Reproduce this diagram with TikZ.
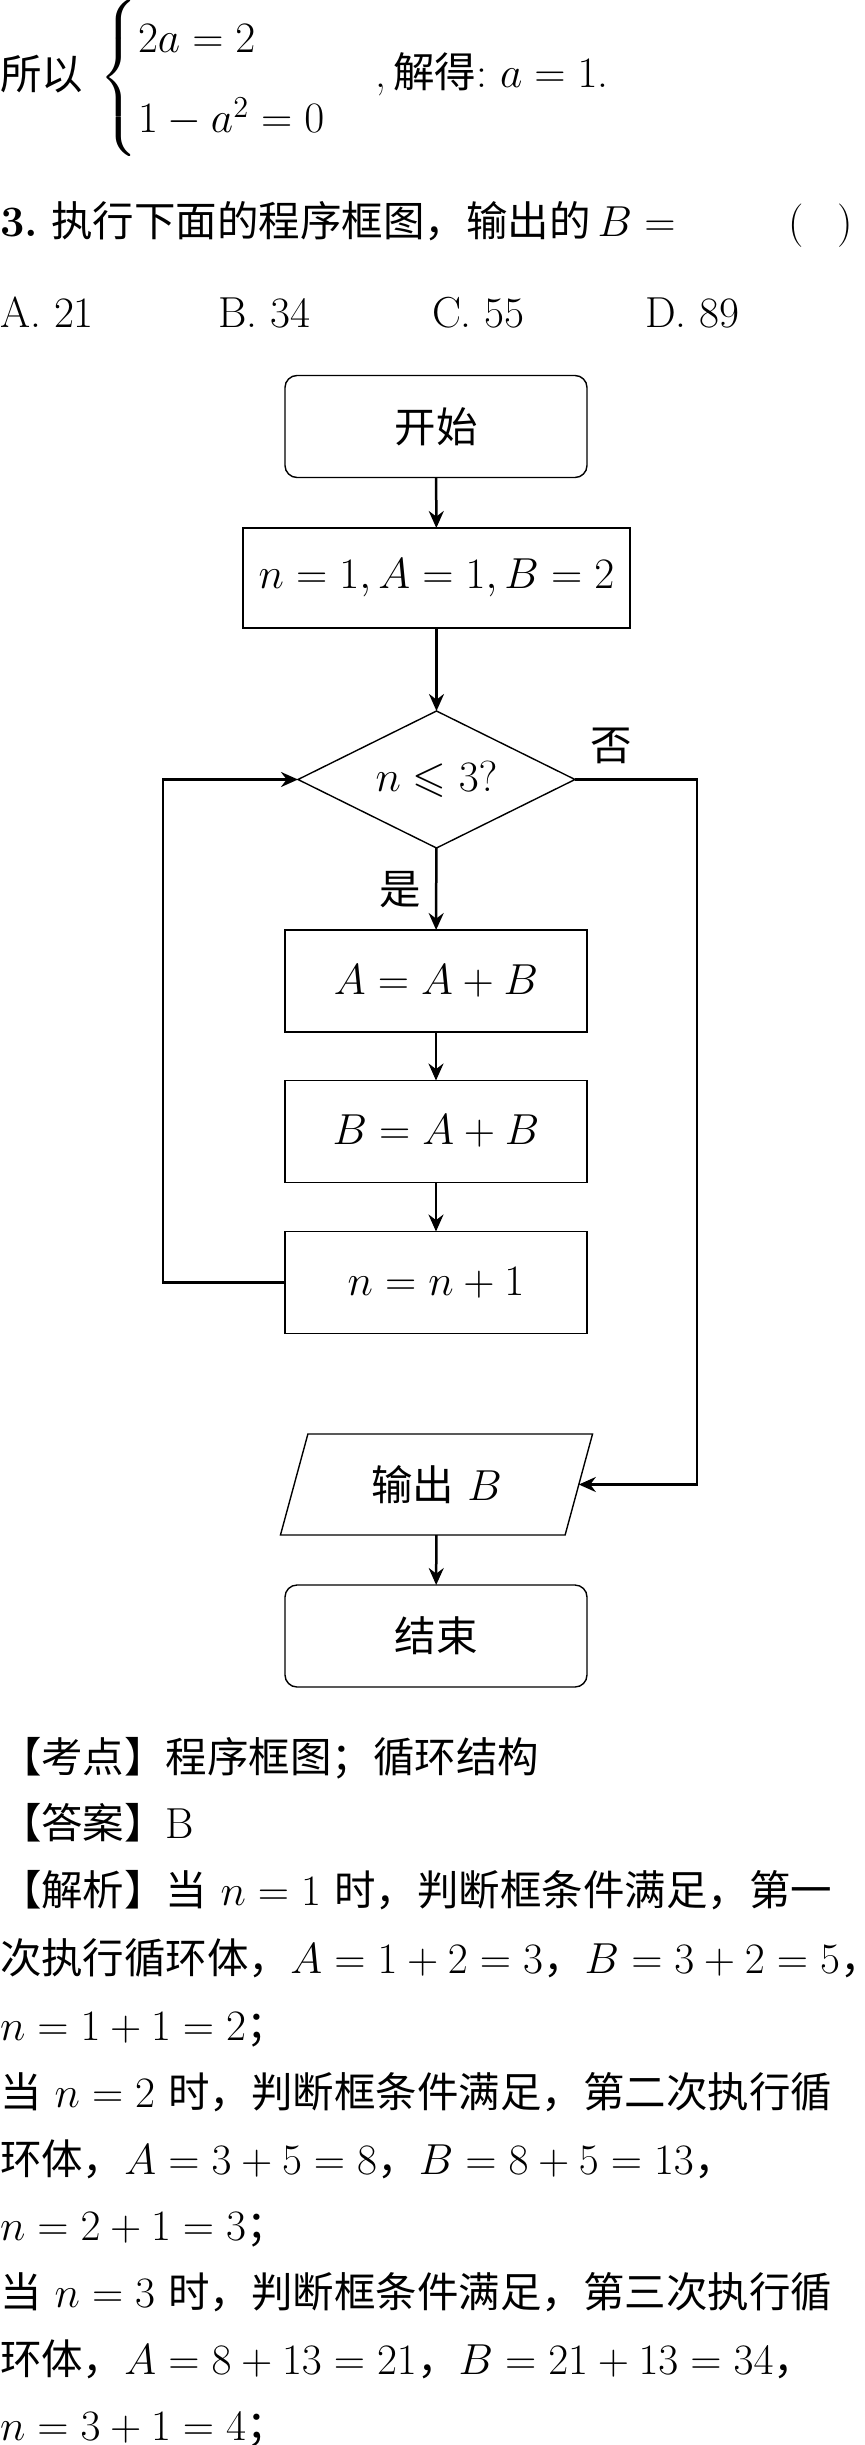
\RequirePackage{fix-cm}
\documentclass[tikz,border=0pt]{standalone}
\usepackage{amsmath,amssymb}
\usepackage{fontspec}
\IfFontExistsTF{FandolSong-Regular.otf}
  {\newfontfamily\cjk[Scale=0.956]{FandolSong-Regular.otf}}
  {\newfontfamily\cjk[Scale=0.956]{Noto Sans CJK SC}}
\newcommand\zh[1]{{\cjk #1}}
\usetikzlibrary{shapes.geometric,arrows.meta}
\begin{document}
\begin{tikzpicture}[x=0.5pt,y=-0.5pt,
  every node/.style={font=\fontsize{21.7}{26}\selectfont, inner sep=0pt, outer sep=0pt},
  txt/.style={anchor=base west},
  box/.style={draw, line width=0.7pt, minimum width=151pt, minimum height=51pt},
  term/.style={box, rounded corners=6pt},
  dec/.style={draw, line width=0.7pt, diamond, aspect=2, minimum width=138.5pt, minimum height=68.5pt},
  io/.style={draw, line width=0.7pt, trapezium, trapezium left angle=70, trapezium right angle=110, minimum width=156.5pt, minimum height=50.5pt, trapezium stretches=true},
  arr/.style={line width=1.25pt, -{Stealth[length=8.5pt,width=7.5pt,inset=2.8pt]}},
]
\fill[white] (0,0) rectangle (864,2445);
\path[use as bounding box] (0,0) rectangle (864,2445);

% top text
\node[txt] (so) at (0,90) {\zh{所以}};
\node (brace) at (120,78) {$\left\{\vrule height 42pt depth 32pt width 0pt\right.$};
\node[txt] (eq1) at (138,53) {$2a=2$};
\node[txt] (eq2) at (138,133) {$1-a^2=0$};
\node[txt] (sol) at (375,88) {,\,\zh{解得}:\ $a=1$.};
\node[txt] (q3) at (0,237) {\textbf{3.}\ \zh{执行下面的程序框图，输出的}\,$B=$};
\node[txt] (par) at (788,237) {(\hspace{17pt})};
\node[txt] (oA) at (0,328) {A.\ 21};
\node[txt] (oB) at (218,328) {B.\ 34};
\node[txt] (oC) at (432,328) {C.\ 55};
\node[txt] (oD) at (645,328) {D.\ 89};

% flowchart
\node[term] (start) at (436,426.5) {\zh{开始}};
\node[box, minimum width=193.5pt, minimum height=50pt] (init) at (436.5,578) {$n=1,A=1,B=2$};
\node[dec] (cond) at (436.5,779.5) {$n\leqslant 3?$};
\node (no) at (611,746) {\zh{否}};
\node (yes) at (400,890) {\zh{是}};
\node[box] (s1) at (436,981) {$A=A+B$};
\node[box] (s2) at (436,1131.5) {$B=A+B$};
\node[box] (s3) at (436,1282.5) {$n=n+1$};
\node[io] (out) at (436.5,1484.5) {\zh{输出} $B$};
\node[term] (stop) at (436,1636) {\zh{结束}};
\coordinate (L) at (163,1282.5);
\coordinate (R) at (697,779.5);

\draw[arr] (start) -- (init);
\draw[arr] (init) -- (cond);
\draw[arr] (cond) -- (s1);
\draw[arr] (s1) -- (s2);
\draw[arr] (s2) -- (s3);
\draw[arr] (s3.west) -- (L) |- (cond.west);
\draw[arr] (cond.east) -- (R) |- (out.east);
\draw[arr] (out) -- (stop);

% bottom text
\node[txt] (t1) at (0,1772) {\zh{【考点】程序框图；循环结构}};
\node[txt] (t2) at (0,1838) {\zh{【答案】}B};
\node[txt] (t3) at (0,1905) {\zh{【解析】当} $n=1$ \zh{时，判断框条件满足，第一}};
\node[txt] (t4) at (0,1973) {\zh{次执行循环体，}$A=1+2=3$\zh{，}$B=3+2=5$\zh{，}};
\node[txt] (t5) at (0,2040) {$n=1+1=2$\zh{；}};
\node[txt] (t6) at (0,2107) {\zh{当} $n=2$ \zh{时，判断框条件满足，第二次执行循}};
\node[txt] (t7) at (0,2174) {\zh{环体，}$A=3+5=8$\zh{，}$B=8+5=13$\zh{，}};
\node[txt] (t8) at (0,2240) {$n=2+1=3$\zh{；}};
\node[txt] (t9) at (0,2307) {\zh{当} $n=3$ \zh{时，判断框条件满足，第三次执行循}};
\node[txt] (t10) at (0,2374) {\zh{环体，}$A=8+13=21$\zh{，}$B=21+13=34$\zh{，}};
\node[txt] (t11) at (0,2440) {$n=3+1=4$\zh{；}};
\end{tikzpicture}
\end{document}
